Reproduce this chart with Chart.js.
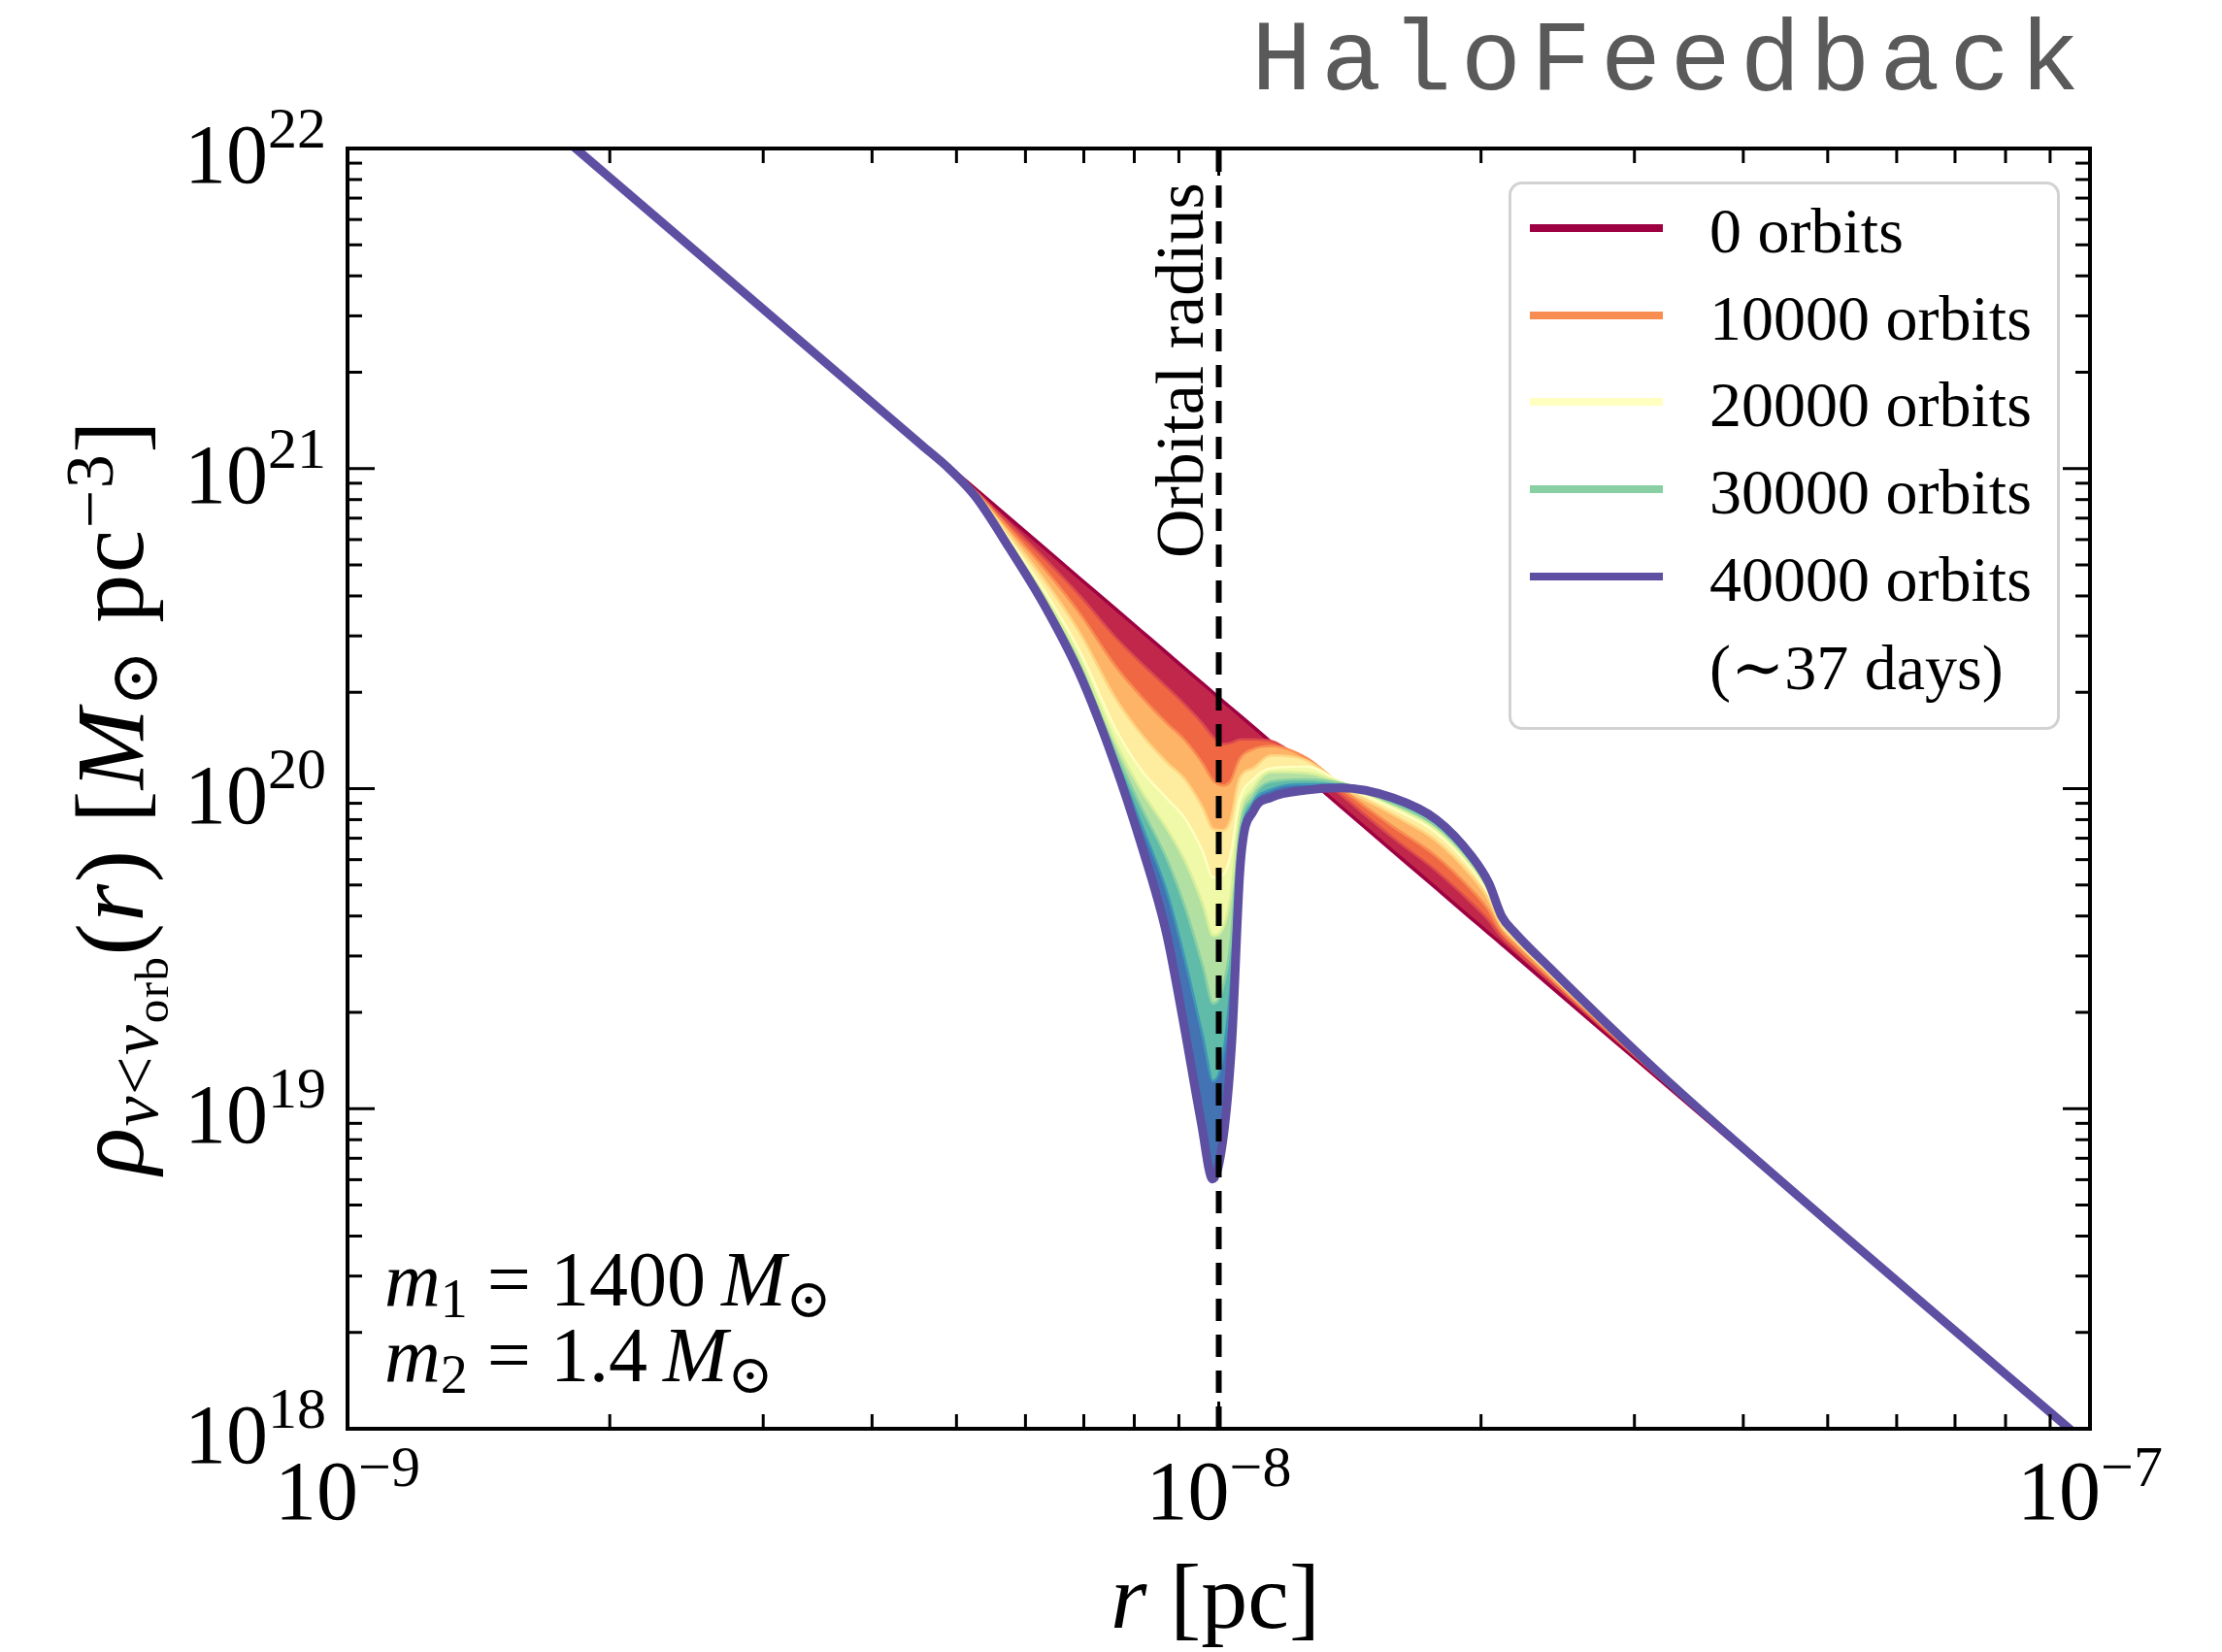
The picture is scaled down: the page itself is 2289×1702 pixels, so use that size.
<!DOCTYPE html>
<html>
<head>
<meta charset="utf-8">
<script src="https://cdn.jsdelivr.net/npm/chart.js@4.4.1/dist/chart.umd.min.js"></script>
<style>
    body { margin: 0; background: #fff; }
    #wrap { position: relative; width: 2289px; height: 1702px; overflow: hidden; }
    #c { position: absolute; left: 0; top: 0; }
    .lab { position: absolute; font-family: 'Liberation Serif', 'DejaVu Serif', serif; color: #000; white-space: nowrap; line-height: 1; }
    .sb { font-size: 0.7em; vertical-align: -0.22em; line-height: 0; }
    .sp { font-size: 0.7em; vertical-align: 0.45em; line-height: 0; }
    .it { font-style: italic; }
    .rot { transform: rotate(-90deg); transform-origin: 0 0; }
    #title { position: absolute; font-family: 'Liberation Mono', 'DejaVu Sans Mono', monospace; font-size: 104px; letter-spacing: 9.5px; color: #5a5a5a; line-height: 1; white-space: nowrap; }
    #legendBox { position: absolute; box-sizing: border-box; border: 3px solid #d2d2d2; border-radius: 14px; background: rgba(255,255,255,0.85); }
    .swatch { position: absolute; height: 8px; }
</style>
</head>
<body>
<div id="wrap">
    <canvas id="c" width="2289" height="1702"></canvas>
    <div id="title">HaloFeedback</div>
    <div id="legendBox"></div>
</div>
<script>
// r grid, log10(r / pc)
const logR = [-9.00, -8.60, -8.34, -8.31, -8.28, -8.24, -8.20, -8.16, -8.12, -8.09, -8.06, -8.04, -8.02, -8.007, -7.995, -7.985,
              -7.975, -7.96, -7.94, -7.90, -7.86, -7.80, -7.75, -7.71, -7.69, -7.675, -7.66, -7.62, -7.56, -7.48, -7.30, -7.00];

// log10(rho) for each snapshot
const rho0k  = [22.611, 21.678, 21.071, 21.001, 20.931, 20.838, 20.745, 20.651, 20.558, 20.488, 20.418, 20.371, 20.325, 20.294, 20.266, 20.243,
                20.220, 20.185, 20.138, 20.045, 19.951, 19.811, 19.695, 19.601, 19.555, 19.520, 19.485, 19.391, 19.251, 19.065, 18.645, 17.945];
const rho5k  = [22.611, 21.678, 21.071, 21.001, 20.928, 20.822, 20.714, 20.599, 20.472, 20.390, 20.313, 20.260, 20.202, 20.158, 20.136, 20.140,
                20.150, 20.150, 20.145, 20.075, 19.986, 19.851, 19.747, 19.648, 19.593, 19.540, 19.501, 19.403, 19.258, 19.068, 18.645, 17.945];
const rho10k = [22.611, 21.678, 21.071, 21.001, 20.925, 20.805, 20.681, 20.543, 20.382, 20.285, 20.200, 20.149, 20.078, 20.021, 20.006, 20.023,
                20.090, 20.120, 20.130, 20.093, 20.006, 19.886, 19.793, 19.690, 19.626, 19.558, 19.516, 19.414, 19.265, 19.070, 18.645, 17.945];
const rho15k = [22.611, 21.678, 21.071, 21.001, 20.922, 20.787, 20.645, 20.482, 20.282, 20.168, 20.078, 20.027, 19.941, 19.870, 19.866, 19.903,
                20.030, 20.060, 20.100, 20.085, 20.011, 19.923, 19.841, 19.733, 19.660, 19.576, 19.531, 19.425, 19.271, 19.072, 18.645, 17.945];
const rho20k = [22.611, 21.678, 21.071, 21.001, 20.919, 20.769, 20.610, 20.424, 20.187, 20.056, 19.965, 19.905, 19.804, 19.719, 19.726, 19.793,
                19.960, 20.025, 20.060, 20.065, 20.016, 19.942, 19.866, 19.756, 19.678, 19.586, 19.538, 19.431, 19.275, 19.073, 18.645, 17.945];
const rho25k = [22.611, 21.678, 21.071, 21.001, 20.917, 20.761, 20.594, 20.398, 20.144, 19.991, 19.869, 19.772, 19.640, 19.537, 19.556, 19.663,
                19.910, 19.995, 20.048, 20.045, 20.016, 19.952, 19.878, 19.767, 19.687, 19.590, 19.542, 19.434, 19.277, 19.074, 18.645, 17.945];
const rho30k = [22.611, 21.678, 21.071, 21.001, 20.916, 20.756, 20.584, 20.380, 20.115, 19.939, 19.773, 19.628, 19.448, 19.325, 19.366, 19.523,
                19.860, 19.970, 20.018, 20.025, 20.013, 19.958, 19.886, 19.775, 19.693, 19.594, 19.545, 19.436, 19.278, 19.074, 18.645, 17.945];
const rho35k = [22.611, 21.678, 21.071, 21.001, 20.915, 20.753, 20.577, 20.369, 20.096, 19.886, 19.669, 19.462, 19.229, 19.083, 19.146, 19.383,
                19.810, 19.950, 19.993, 20.010, 20.009, 19.965, 19.895, 19.782, 19.699, 19.597, 19.547, 19.438, 19.279, 19.075, 18.645, 17.945];
const rho40k = [22.611, 21.678, 21.071, 21.001, 20.915, 20.750, 20.572, 20.360, 20.082, 19.834, 19.547, 19.262, 18.955, 18.780, 18.906, 19.209,
                19.770, 19.931, 19.972, 19.995, 20.002, 19.971, 19.903, 19.790, 19.705, 19.600, 19.550, 19.440, 19.280, 19.075, 18.645, 17.945];

const orbits = [0, 5000, 10000, 15000, 20000, 25000, 30000, 35000, 40000];
const legendOrbits = [0, 10000, 20000, 30000, 40000];
const orbitalRadiusLog = -8;
const xDecades = [-9, -7];
const yDecades = [18, 22];

// Spectral colormap samples
const lineColors = ['#9e0142', '#db4a4c', '#f88d52', '#fed481', '#ffffbf', '#d7ef9b', '#88cfa4', '#3f97b7', '#5e4fa2'];
const bandColors = ['#c0274a', '#f06744', '#fdb466', '#feec9f', '#eff9a7', '#b2e0a2', '#60bba8', '#4373b3'];

const series = [rho0k, rho5k, rho10k, rho15k, rho20k, rho25k, rho30k, rho35k, rho40k];
const last = series.length - 1;

const datasets = series.map((vals, k) => ({
    label: orbits[k] + ' orbits',
    data: logR.map((lr, i) => ({ x: Math.pow(10, lr), y: Math.pow(10, vals[i]) })),
    borderColor: lineColors[k],
    borderWidth: k === 0 ? 7 : (k === last ? 9 : 5),
    backgroundColor: k > 0 ? bandColors[k - 1] : 'rgba(0,0,0,0)',
    fill: k > 0 ? '-1' : false,
    pointRadius: 0,
    cubicInterpolationMode: 'monotone',
    order: last - k + 1,
    clip: 0
}));

datasets.push({
    label: 'Orbital radius',
    data: [{ x: Math.pow(10, orbitalRadiusLog), y: Math.pow(10, yDecades[0]) }, { x: Math.pow(10, orbitalRadiusLog), y: Math.pow(10, yDecades[1]) }],
    borderColor: '#000',
    borderWidth: 6,
    borderDash: [23, 14],
    pointRadius: 0,
    fill: false,
    order: 0,
    clip: 0
});

const SERIF = '"Liberation Serif", "DejaVu Serif", serif';

function powLabel(ctx, exp, x, y, axis) {
    const base = '10', sup = String(exp).replace('-', '\u2212');
    ctx.font = '86px ' + SERIF;
    const wb = ctx.measureText(base).width;
    ctx.font = '60px ' + SERIF;
    const ws = ctx.measureText(sup).width;
    let x0, bBase, bSup;
    if (axis === 'x') { x0 = x - (wb + ws) / 2; bBase = y + 93; bSup = y + 59; }
    else { x0 = x - wb - ws; bBase = y + 35; bSup = y - 1; }
    ctx.font = '86px ' + SERIF;
    ctx.fillText(base, x0, bBase);
    ctx.font = '60px ' + SERIF;
    ctx.fillText(sup, x0 + wb, bSup);
}

const framePlugin = {
    id: 'frame',
    afterDraw(chart) {
        const { ctx, chartArea: a, scales: { x, y } } = chart;
        ctx.save();
        ctx.strokeStyle = '#000';
        ctx.fillStyle = '#000';
        ctx.lineWidth = 3;
        const seg = (x1, y1, x2, y2) => { ctx.beginPath(); ctx.moveTo(x1, y1); ctx.lineTo(x2, y2); ctx.stroke(); };

        for (let e = xDecades[0]; e <= xDecades[1]; e++) {
            for (let m = 1; m <= 9; m++) {
                if (e === xDecades[1] && m > 1) break;
                const px = x.getPixelForValue(m * Math.pow(10, e));
                const len = m === 1 ? 28 : 15;
                seg(px, a.bottom, px, a.bottom - len);
                seg(px, a.top, px, a.top + len);
            }
        }
        for (let e = yDecades[0]; e <= yDecades[1]; e++) {
            for (let m = 1; m <= 9; m++) {
                if (e === yDecades[1] && m > 1) break;
                const py = y.getPixelForValue(m * Math.pow(10, e));
                const len = m === 1 ? 28 : 15;
                seg(a.left, py, a.left + len, py);
                seg(a.right, py, a.right - len, py);
            }
        }
        ctx.lineWidth = 4;
        ctx.strokeRect(a.left, a.top, a.right - a.left, a.bottom - a.top);

        ctx.textBaseline = 'alphabetic';
        for (let e = xDecades[0]; e <= xDecades[1]; e++) powLabel(ctx, e, x.getPixelForValue(Math.pow(10, e)), a.bottom, 'x');
        for (let e = yDecades[0]; e <= yDecades[1]; e++) powLabel(ctx, e, a.left - 22, y.getPixelForValue(Math.pow(10, e)), 'y');
        ctx.restore();
    }
};

const chart = new Chart(document.getElementById('c'), {
    type: 'line',
    data: { datasets: datasets },
    options: {
        responsive: false,
        animation: false,
        devicePixelRatio: 1,
        layout: { padding: { left: 358, top: 153, right: 136, bottom: 230 } },
        scales: {
            x: { type: 'logarithmic', min: Math.pow(10, xDecades[0]), max: Math.pow(10, xDecades[1]), display: false },
            y: { type: 'logarithmic', min: Math.pow(10, yDecades[0]), max: Math.pow(10, yDecades[1]), display: false }
        },
        plugins: { legend: { display: false }, tooltip: { enabled: false } }
    },
    plugins: [framePlugin]
});

// HTML text
const wrap = document.getElementById('wrap');
const BASE = 0.8375; // baseline offset of Liberation Serif at line-height 1

function addLabel(html, size, cls) {
    const el = document.createElement('div');
    el.className = 'lab' + (cls ? ' ' + cls : '');
    el.style.fontSize = size + 'px';
    el.innerHTML = html;
    wrap.appendChild(el);
    return el;
}

const title = document.getElementById('title');
title.style.right = '137px';
title.style.top = (92 - 0.7665 * 104) + 'px';

// y axis title
const yl = addLabel('<span class="it">ρ</span><span class="sb"><span class="it">v</span>&lt;<span class="it">v</span><span class="sb">orb</span></span>(<span class="it">r</span>) [<span class="it">M</span><span class="sb">⊙</span> pc<span class="sp">−3</span>]', 100, 'rot');
yl.style.letterSpacing = '1.5px';
yl.style.left = (148 - BASE * 100) + 'px';
yl.style.top = (821 + yl.offsetWidth / 2) + 'px';

// x axis title
const xl = addLabel('<span class="it">r</span> [pc]', 96);
xl.style.left = (1252 - xl.offsetWidth / 2) + 'px';
xl.style.top = (1677 - BASE * 96) + 'px';

// orbital radius label
const orl = addLabel('Orbital radius', 70, 'rot');
orl.style.left = (1240 - BASE * 70) + 'px';
orl.style.top = '575px';

// masses
const m1 = addLabel('<span class="it">m</span><span class="sb">1</span> = 1400\u2009<span class="it">M</span><span class="sb">⊙</span>', 80);
m1.style.left = '396px'; m1.style.top = (1345 - BASE * 80) + 'px';
const m2 = addLabel('<span class="it">m</span><span class="sb">2</span> = 1.4\u2009<span class="it">M</span><span class="sb">⊙</span>', 80);
m2.style.left = '396px'; m2.style.top = (1423 - BASE * 80) + 'px';

// legend
const box = document.getElementById('legendBox');
box.style.left = '1554px'; box.style.top = '187px'; box.style.width = '568px'; box.style.height = '565px';
const rowLine = [235, 325, 414, 504, 594];
legendOrbits.forEach((n, i) => {
    const sw = document.createElement('div');
    sw.className = 'swatch';
    sw.style.left = '1576px'; sw.style.width = '137px';
    sw.style.top = (rowLine[i] - 4) + 'px';
    sw.style.background = lineColors[orbits.indexOf(n)];
    wrap.appendChild(sw);
    const t = addLabel(n + ' orbits', 66);
    t.style.left = '1761px'; t.style.top = (rowLine[i] + 25 - BASE * 66) + 'px';
});
const days = addLabel('(\u223C37 days)', 66);
days.style.left = '1761px'; days.style.top = (710 - BASE * 66) + 'px';
</script>
</body>
</html>
